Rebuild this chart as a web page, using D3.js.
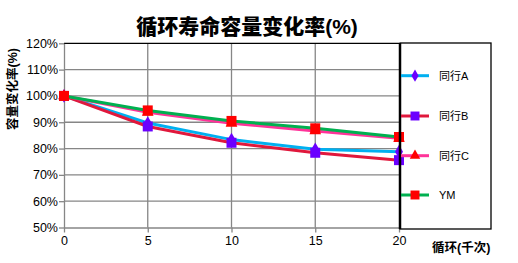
<!DOCTYPE html>
<html>
<head>
<meta charset="utf-8">
<script src="https://cdn.jsdelivr.net/npm/d3@7"></script>
<style>
  body { margin: 0; background: #fff; }
  text { font-family: "Liberation Sans", Arial, "Noto Sans CJK SC", sans-serif; }
</style>
</head>
<body>
<div id="chart"></div>
<script>
// cycles (thousand)
const cycles = [0, 5, 10, 15, 20];
const seriesNames = ["同行A", "同行B", "同行C", "YM"];
const valuesA = [100, 89.7, 83.4, 79.7, 78.8];
const valuesB = [100, 88.4, 82.2, 78.4, 75.6];
const valuesC = [100, 93.8, 89.6, 86.7, 83.9];
const valuesYM = [100, 94.5, 90.5, 87.7, 84.4];
const yTicks = [50, 60, 70, 80, 90, 100, 110, 120];

const W = 518, H = 263;
const plotLeft = 64, plotRight = 399, plotTop = 43.3, plotBottom = 227.5;

const svg = d3.select("#chart").append("svg")
  .attr("width", W).attr("height", H);

const x = d3.scaleLinear().domain([0, 20]).range([plotLeft, plotRight]);
const y = d3.scaleLinear().domain([50, 120]).range([plotBottom, plotTop]);

// gridlines
svg.append("g").selectAll("line").data(yTicks.slice(1, -1)).enter().append("line")
  .attr("x1", plotLeft).attr("x2", plotRight)
  .attr("y1", d => y(d)).attr("y2", d => y(d))
  .attr("stroke", "#868686").attr("stroke-width", 1.3);
svg.append("g").selectAll("line").data(cycles.slice(1, -1)).enter().append("line")
  .attr("x1", d => x(d)).attr("x2", d => x(d))
  .attr("y1", plotTop).attr("y2", plotBottom)
  .attr("stroke", "#868686").attr("stroke-width", 1.3);

// top border
svg.append("line").attr("x1", plotLeft).attr("x2", plotRight).attr("y1", plotTop).attr("y2", plotTop)
  .attr("stroke", "#000").attr("stroke-width", 1.3);

// axes
const yAxis = svg.append("g").attr("transform", `translate(${plotLeft},0)`)
  .call(d3.axisLeft(y).tickValues(yTicks).tickFormat(d => d + "%").tickSize(5).tickSizeOuter(0));
const xAxis = svg.append("g").attr("transform", `translate(0,${plotBottom})`)
  .call(d3.axisBottom(x).tickValues(cycles).tickSize(5).tickSizeOuter(0));
[yAxis, xAxis].forEach(g => {
  g.select(".domain").attr("stroke", "#868686").attr("stroke-width", 1.3);
  g.selectAll(".tick line").attr("stroke", "#868686").attr("stroke-width", 1.3);
  g.selectAll("text").attr("font-size", 12.5).attr("fill", "#000")
    .attr("font-family", "Liberation Sans, Arial, sans-serif");
});
yAxis.selectAll("text").attr("x", -6);
xAxis.selectAll("text").attr("y", 9);

const series = [
  { name: seriesNames[0], values: valuesA, line: "#00b0f0", mark: "#6a00ff", shape: d3.symbolDiamond, size: 55 },
  { name: seriesNames[1], values: valuesB, line: "#e0183c", mark: "#6a00ff", shape: d3.symbolSquare, size: 100 },
  { name: seriesNames[2], values: valuesC, line: "#ff3399", mark: "#ff0000", shape: d3.symbolTriangle, size: 60 },
  { name: seriesNames[3], values: valuesYM, line: "#00b050", mark: "#ff0000", shape: d3.symbolSquare, size: 100 }
];

const line = d3.line().x((d, i) => x(cycles[i])).y(d => y(d));

series.forEach(s => {
  svg.append("path").datum(s.values)
    .attr("d", line).attr("fill", "none")
    .attr("stroke", s.line).attr("stroke-width", 3);
});
series.forEach(s => {
  svg.append("g").selectAll("path").data(s.values).enter().append("path")
    .attr("d", d3.symbol().type(s.shape).size(s.size))
    .attr("transform", (d, i) => `translate(${x(cycles[i])},${y(d)})`)
    .attr("fill", s.mark);
});

// legend
const legend = svg.append("g");
legend.append("rect").attr("x", 400).attr("y", 43).attr("width", 91).attr("height", 186)
  .attr("fill", "none").attr("stroke", "#000").attr("stroke-width", 1.3);
legend.append("line").attr("x1", 400).attr("x2", 400).attr("y1", 43).attr("y2", 229)
  .attr("stroke", "#000").attr("stroke-width", 2.5);
const legendY = [75.7, 116, 155.7, 195];
series.forEach((s, i) => {
  const ly = legendY[i];
  legend.append("line").attr("x1", 401).attr("x2", 429).attr("y1", ly).attr("y2", ly)
    .attr("stroke", s.line).attr("stroke-width", 3);
  legend.append("path").attr("d", d3.symbol().type(s.shape).size(s.size * 0.8))
    .attr("transform", `translate(415,${ly})`).attr("fill", s.mark);
  legend.append("text").attr("x", 439).attr("y", ly + 4).attr("font-size", 11)
    .attr("fill", "#000").text(s.name);
});

// titles
svg.append("text").attr("x", 247).attr("y", 34).attr("text-anchor", "middle")
  .attr("font-size", 21).attr("font-weight", 900).text("循环寿命容量变化率(%)");
svg.append("text").attr("transform", "translate(17,89) rotate(-90)")
  .attr("text-anchor", "middle").attr("font-size", 12.5).attr("font-weight", "bold")
  .text("容量变化率(%)");
svg.append("text").attr("x", 432).attr("y", 252).attr("font-size", 12.5)
  .attr("font-weight", "bold").text("循环(千次)");
</script>
</body>
</html>
